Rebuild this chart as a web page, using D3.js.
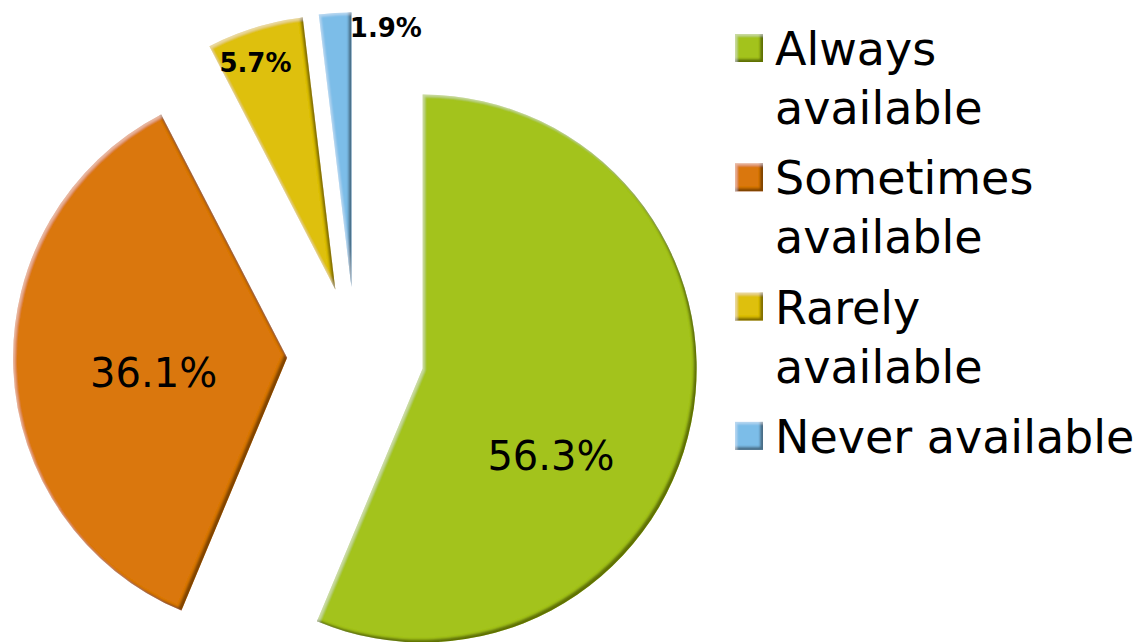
<!DOCTYPE html>
<html>
<head>
<meta charset="utf-8">
<script src="https://cdn.jsdelivr.net/npm/d3@7/dist/d3.min.js"></script>
<style>
  html, body { margin: 0; padding: 0; background: #fff; }
  svg { display: block; font-family: "DejaVu Sans", sans-serif; }
</style>
</head>
<body>
<svg id="chart" width="1148" height="642"></svg>
<script>
// data
const categories = ["Always available", "Sometimes available", "Rarely available", "Never available"];
const legendLines = [["Always", "available"], ["Sometimes", "available"], ["Rarely", "available"], ["Never available"]];
const values = [56.3, 36.1, 5.7, 1.9];
const colors = ["#a3c31e", "#da770b", "#dec00c", "#7cbde8"];

// label placement (angle shift from slice middle, in degrees, and fraction of radius)
const labelShift = [23, -4, -2.3, 11];
const labelRadius = [0.567, 0.49, 0.878, 0.953];
const labelBold = [false, false, true, true];

const width = 1148, height = 642;
const cx = 355.5, cy = 355, radius = 274;
const explode = 0.25 * radius;

const svg = d3.select("#chart");

// bevel: dark band on lower right edges, light band on upper left edges
const defs = svg.append("defs");
const bevel = defs.append("filter").attr("id", "bevel")
    .attr("x", "-5%").attr("y", "-5%").attr("width", "110%").attr("height", "110%");
bevel.append("feGaussianBlur").attr("in", "SourceAlpha").attr("stdDeviation", 1.2).attr("result", "blur");
bevel.append("feOffset").attr("in", "blur").attr("dx", -3).attr("dy", -3).attr("result", "upLeft");
bevel.append("feOffset").attr("in", "blur").attr("dx", 2).attr("dy", 2).attr("result", "downRight");
bevel.append("feComposite").attr("in", "SourceAlpha").attr("in2", "upLeft").attr("operator", "out").attr("result", "darkBand");
bevel.append("feComposite").attr("in", "SourceAlpha").attr("in2", "downRight").attr("operator", "out").attr("result", "lightBand");
bevel.append("feFlood").attr("flood-color", "#1a1400").attr("flood-opacity", 0.7).attr("result", "darkFlood");
bevel.append("feComposite").attr("in", "darkFlood").attr("in2", "darkBand").attr("operator", "in").attr("result", "shadow");
bevel.append("feFlood").attr("flood-color", "#fff").attr("flood-opacity", 0.35).attr("result", "lightFlood");
bevel.append("feComposite").attr("in", "lightFlood").attr("in2", "lightBand").attr("operator", "in").attr("result", "light");
const merge = bevel.append("feMerge");
merge.append("feMergeNode").attr("in", "SourceGraphic");
merge.append("feMergeNode").attr("in", "shadow");
merge.append("feMergeNode").attr("in", "light");

const pie = d3.pie().sort(null).value(d => d)(values);
const arc = d3.arc().innerRadius(0).outerRadius(radius);

const offset = d => {
    const mid = (d.startAngle + d.endAngle) / 2;
    return [Math.sin(mid) * explode, -Math.cos(mid) * explode];
};

const slices = svg.append("g").attr("transform", `translate(${cx},${cy})`)
    .selectAll("g.slice")
    .data(pie)
    .join("g")
    .attr("class", "slice")
    .attr("transform", d => `translate(${offset(d)})`);

slices.append("path")
    .attr("d", arc)
    .attr("fill", (d, i) => colors[i])
    .attr("filter", "url(#bevel)");

slices.append("text")
    .attr("transform", (d, i) => {
        const a = (d.startAngle + d.endAngle) / 2 + labelShift[i] * Math.PI / 180;
        const r = labelRadius[i] * radius;
        return `translate(${Math.sin(a) * r},${-Math.cos(a) * r})`;
    })
    .attr("text-anchor", "middle")
    .attr("dominant-baseline", "central")
    .attr("font-size", (d, i) => labelBold[i] ? 26 : 40)
    .attr("font-weight", (d, i) => labelBold[i] ? "bold" : "normal")
    .attr("fill", "#000")
    .text(d => d.data.toFixed(1) + "%");

// legend
const legend = svg.append("g").attr("transform", "translate(735,34)")
    .selectAll("g.item")
    .data(categories)
    .join("g")
    .attr("class", "item")
    .attr("transform", (d, i) => `translate(0,${i * 129.3})`);

legend.append("rect")
    .attr("width", 28).attr("height", 28)
    .attr("fill", (d, i) => colors[i])
    .attr("filter", "url(#bevel)");

legend.append("text")
    .attr("x", 40)
    .attr("font-size", 46)
    .attr("fill", "#000")
    .selectAll("tspan")
    .data((d, i) => legendLines[i])
    .join("tspan")
    .attr("x", 40)
    .attr("y", (d, j) => 31 + j * 59)
    .text(d => d);
</script>
</body>
</html>
